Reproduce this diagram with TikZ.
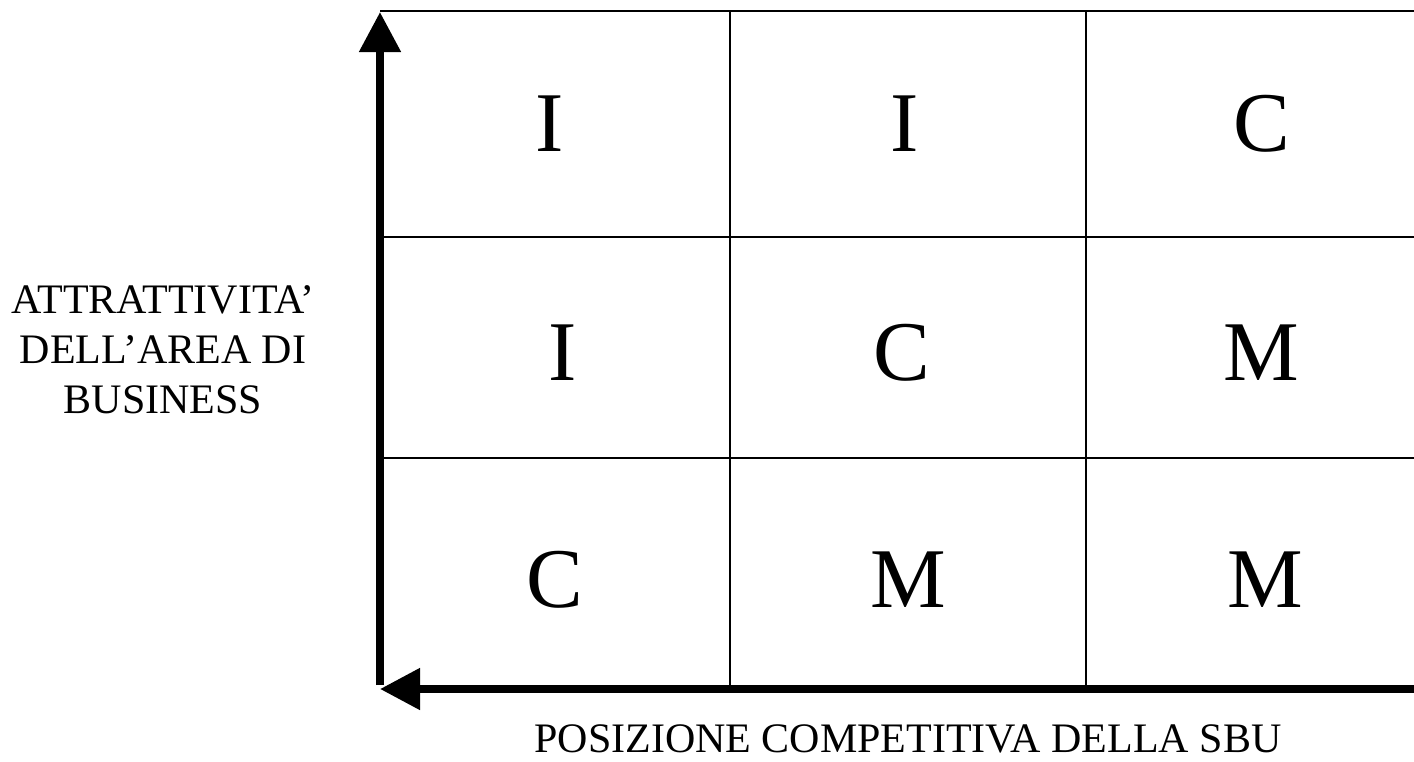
\documentclass[tikz,border=0pt]{standalone}
\usepackage{fontspec}
\setmainfont{Liberation Serif}
\usetikzlibrary{arrows.meta}
\begin{document}
\begin{tikzpicture}[x=1pt,y=-1pt,
  cell/.style={font=\fontsize{85}{85}\selectfont, inner sep=0pt},
  axlabel/.style={font=\fontsize{42}{50}\selectfont, align=center, inner sep=0pt},
  grid/.style={line width=1.6pt},
  axis/.style={line width=8pt, -{Triangle[length=40pt,width=40pt]}}]
\useasboundingbox (0,0) rectangle (1414,761);
% corner coordinates
\coordinate (tl) at (380,11);
\coordinate (tr) at (1414,11);
\coordinate (v1t) at (730,11);
\coordinate (v1b) at (730,689);
\coordinate (v2t) at (1086,11);
\coordinate (v2b) at (1086,689);
\coordinate (h1l) at (380,237);
\coordinate (h1r) at (1414,237);
\coordinate (h2l) at (380,458);
\coordinate (h2r) at (1414,458);
\coordinate (ybot) at (380,685);
\coordinate (ytip) at (380,12);
\coordinate (xright) at (1414,689);
\coordinate (xtip) at (380,689);
% grid
\draw[grid] (tl) -- (tr);
\draw[grid] (v1t) -- (v1b);
\draw[grid] (v2t) -- (v2b);
\draw[grid] (h1l) -- (h1r);
\draw[grid] (h2l) -- (h2r);
% axes
\draw[axis] (ybot) -- (ytip);
\draw[axis] (xright) -- (xtip);
% cell letters
\node[cell] (a11) at (550,124) {I};
\node[cell] (a12) at (905,124) {I};
\node[cell] (a13) at (1262,124) {C};
\node[cell] (a21) at (563,353) {I};
\node[cell] (a22) at (902,353) {C};
\node[cell] (a23) at (1261,353) {M};
\node[cell] (a31) at (555,580) {C};
\node[cell] (a32) at (908,580) {M};
\node[cell] (a33) at (1265,580) {M};
% axis labels
\node[axlabel] (ylab) at (163,350) {ATTRATTIVITA’\\DELL’AREA DI\\BUSINESS};
\node[axlabel] (xlab) at (908,739) {POSIZIONE COMPETITIVA DELLA SBU};
\end{tikzpicture}
\end{document}
